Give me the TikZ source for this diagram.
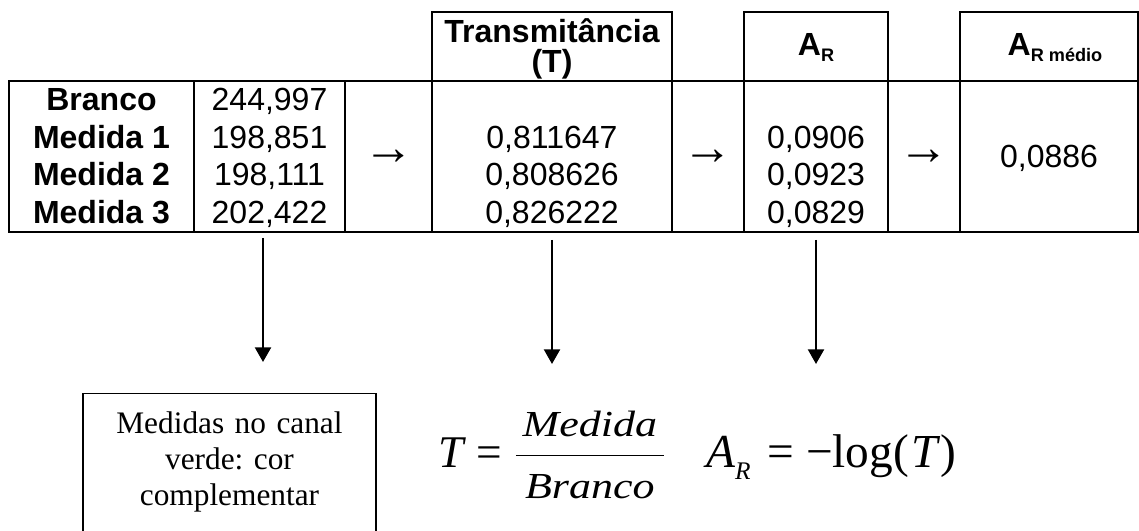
\RequirePackage{fix-cm}
\documentclass[tikz,border=0pt]{standalone}
\usepackage{fontspec}
\setmainfont{Liberation Sans}
\newfontfamily\tnr{Liberation Serif}
\usetikzlibrary{arrows.meta}

\begin{document}
\begin{tikzpicture}[
    x=0.75pt, y=-0.75pt,
    grade/.style={line width=1.7pt},
    cel/.style={anchor=base, inner sep=0pt, font=\fontsize{24}{28}\selectfont},
    rotulo/.style={cel, font=\fontsize{24}{28}\selectfont\bfseries},
    simb/.style={anchor=center, inner sep=0pt, font=\fontsize{38}{40}\selectfont},
    seta/.style={-{Triangle[width=12pt,length=11pt]}, line width=1.7pt},
    nota/.style={draw, line width=1pt, anchor=north, align=center, text width=219.75pt, inner xsep=0pt, inner ysep=0pt, text height=30pt, text depth=100pt, font=\tnr\frenchspacing\fontsize{23.5}{27}\selectfont},
    eqn/.style={anchor=base west, inner sep=0pt, font=\tnr\fontsize{34}{40}\selectfont},
]
\clip (0,0) rectangle (1139,531);

\draw[grade] (9,81) rectangle (1138,232);
\draw[grade] (432,12) rectangle (672,232);
\draw[grade] (744,12) rectangle (888,232);
\draw[grade] (960,12) rectangle (1138,232);
\draw[grade] (194,81) -- (194,232);
\draw[grade] (345,81) -- (345,232);

\node[rotulo] (htrans) at (552,43) {Transmitância};
\node[rotulo] (htransb) at (552,73) {(T)};
\node[rotulo] (har) at (816,56) {A\raisebox{-4.5pt}{\fontsize{13.6}{16}\selectfont R}};
\node[rotulo] (harmed) at (1055,56) {A\raisebox{-4.5pt}{\fontsize{13.6}{16}\selectfont R médio}};

\node[rotulo] (branco) at (101.5,111) {Branco};
\node[rotulo] (med1) at (101.5,148.5) {Medida 1};
\node[rotulo] (med2) at (101.5,186) {Medida 2};
\node[rotulo] (med3) at (101.5,223.5) {Medida 3};

\node[cel] (vbranco) at (269.5,111) {244,997};
\node[cel] (v1) at (269.5,148.5) {198,851};
\node[cel] (v2) at (269.5,186) {198,111};
\node[cel] (v3) at (269.5,223.5) {202,422};

\node[cel] (t1) at (552,148.5) {0,811647};
\node[cel] (t2) at (552,186) {0,808626};
\node[cel] (t3) at (552,223.5) {0,826222};

\node[cel] (a1) at (816,148.5) {0,0906};
\node[cel] (a2) at (816,186) {0,0923};
\node[cel] (a3) at (816,223.5) {0,0829};

\node[cel] (amedia) at (1049,168) {0,0886};

\node[simb] (s1) at (388.5,157) {→};
\node[simb] (s2) at (708,157) {→};
\node[simb] (s3) at (924,157) {→};

\coordinate (d1a) at (263,238);
\coordinate (d1b) at (263,362);
\coordinate (d2a) at (552,240);
\coordinate (d2b) at (552,364);
\coordinate (d3a) at (816,240);
\coordinate (d3b) at (816,364);
\draw[seta] (d1a) -- (d1b);
\draw[seta] (d2a) -- (d2b);
\draw[seta] (d3a) -- (d3b);

\node[nota] (nota) at (229.5,393) {Medidas no canal\\verde: cor\\complementar};

\node[eqn] (eqt) at (438,467) {$\displaystyle\mbox{\itshape T}\mathrel{\mbox{=}}\frac{\mbox{\makebox[111pt]{\scalebox{1.2}[1]{\fontsize{27.5}{30}\selectfont\itshape Medida}}}}{\mbox{\makebox[111pt]{\scalebox{1.2}[1]{\fontsize{27.5}{30}\selectfont\itshape Branco}}}}$};
\node[eqn, font=\tnr\fontsize{35.5}{40}\selectfont] (eqar) at (706,467) {{\itshape A}\raisebox{-9pt}{\fontsize{19}{22}\selectfont\itshape R}\hspace{12.5pt}=\hspace{9pt}−log(\hspace{2pt}{\itshape T\/})};
\end{tikzpicture}
\end{document}
